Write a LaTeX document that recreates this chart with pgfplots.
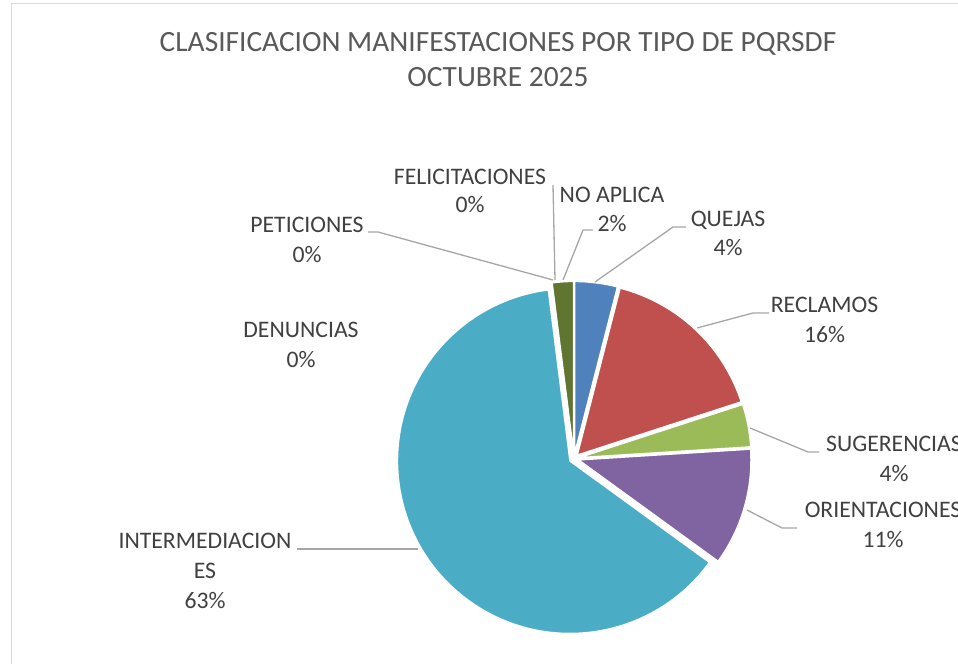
\documentclass[border=0pt]{standalone}
\usepackage{pgfplots}
\usepackage{pgfplotstable}
\pgfplotsset{compat=1.18}
\usepackage{fontspec}
\setmainfont{Carlito}
\definecolor{c0}{HTML}{4F81BD}
\definecolor{c1}{HTML}{C0504D}
\definecolor{c2}{HTML}{9BBB59}
\definecolor{c3}{HTML}{8064A2}
\definecolor{c4}{HTML}{4BACC6}
\definecolor{c5}{HTML}{F79646}
\definecolor{c6}{HTML}{2C4D75}
\definecolor{c7}{HTML}{772C2A}
\definecolor{c8}{HTML}{5F7530}
\definecolor{labtxt}{HTML}{404040}
\definecolor{titletxt}{HTML}{595959}
\definecolor{leader}{HTML}{A6A6A6}
\definecolor{frame}{HTML}{D9D9D9}
\pgfplotstableread{
name pct
QUEJAS 4
RECLAMOS 16
SUGERENCIAS 4
ORIENTACIONES 11
INTERMEDIACIONES 63
DENUNCIAS 0
PETICIONES 0
FELICITACIONES 0
NOAPLICA 2
}\piedata
\begin{document}
\begin{tikzpicture}
\useasboundingbox (0,0) rectangle (958pt,664pt);
\begin{axis}[x=1pt,y=1pt,xmin=0,xmax=958,ymin=0,ymax=664,hide axis,scale only axis,clip=false,at={(0,0)},anchor=south west]
% frame
\draw[frame,line width=1pt] (axis cs:11,0) -- (axis cs:11,660) -- (axis cs:960,660);
% slices
\xdef\cumang{90}
\pgfplotsforeachungrouped \i in {0,...,8}{%
  \pgfplotstablegetelem{\i}{pct}\of\piedata
  \pgfmathsetmacro\sweep{\pgfplotsretval*3.6}%
  \pgfmathsetmacro\endang{\cumang-\sweep}%
  \pgfmathsetmacro\midang{\cumang-\sweep/2}%
  \pgfmathsetmacro\cx{574+4.7*cos(\midang)}%
  \pgfmathsetmacro\cy{205.4+4.7*sin(\midang)}%
  \ifdim\sweep pt>0pt
    \edef\temp{\noexpand\fill[c\i,draw=white,line width=1.5pt,line join=round] (axis cs:\cx,\cy) -- ++(\cumang:172.5pt) arc[start angle=\cumang,end angle=\endang,radius=172.5pt] -- cycle;}%
    \temp
  \fi
  \xdef\cumang{\endang}%
}
% leader lines
\draw[leader,line width=1.3pt] (axis cs:553,479) -- (axis cs:555,384);
\draw[leader,line width=1.3pt] (axis cs:593,434) -- (axis cs:583,434) -- (axis cs:563,384);
\draw[leader,line width=1.3pt] (axis cs:686,437) -- (axis cs:673,437) -- (axis cs:595,382);
\draw[leader,line width=1.3pt] (axis cs:368,432) -- (axis cs:378,432) -- (axis cs:553,384);
\draw[leader,line width=1.3pt] (axis cs:769,351) -- (axis cs:753,351) -- (axis cs:697,336);
\draw[leader,line width=1.3pt] (axis cs:750,236) -- (axis cs:808,212) -- (axis cs:819,212);
\draw[leader,line width=1.3pt] (axis cs:747,154) -- (axis cs:782,136) -- (axis cs:797,136);
\draw[leader,line width=1.3pt] (axis cs:297,115) -- (axis cs:418,115);
% title
\tikzset{tt/.style={anchor=base,inner sep=0pt,text=titletxt,font=\fontsize{29.4}{35}\selectfont},
lb/.style={anchor=base,inner sep=0pt,text=labtxt,font=\fontsize{23.7}{29}\selectfont}}
\node[tt] at (axis cs:498,612) {CLASIFICACION MANIFESTACIONES POR TIPO DE PQRSDF};
\node[tt] at (axis cs:498,577) {OCTUBRE 2025};
% labels
\node[lb] at (axis cs:470,479) {FELICITACIONES};
\node[lb] at (axis cs:470,451) {0\%};
\node[lb] at (axis cs:612,461) {NO APLICA};
\node[lb] at (axis cs:612,432) {2\%};
\node[lb] at (axis cs:728,437) {QUEJAS};
\node[lb] at (axis cs:728,408) {4\%};
\node[lb] at (axis cs:307,431) {PETICIONES};
\node[lb] at (axis cs:307,401) {0\%};
\node[lb] at (axis cs:824.5,351) {RECLAMOS};
\node[lb] at (axis cs:824.5,321) {16\%};
\node[lb] at (axis cs:301,326) {DENUNCIAS};
\node[lb] at (axis cs:301,296) {0\%};
\node[lb] at (axis cs:894,212) {SUGERENCIAS};
\node[lb] at (axis cs:894,182) {4\%};
\node[lb] at (axis cs:883,146) {ORIENTACIONES};
\node[lb] at (axis cs:883,116) {11\%};
\node[lb] at (axis cs:205,115) {INTERMEDIACION};
\node[lb] at (axis cs:205,85) {ES};
\node[lb] at (axis cs:205,56) {63\%};
\end{axis}
\end{tikzpicture}
\end{document}
